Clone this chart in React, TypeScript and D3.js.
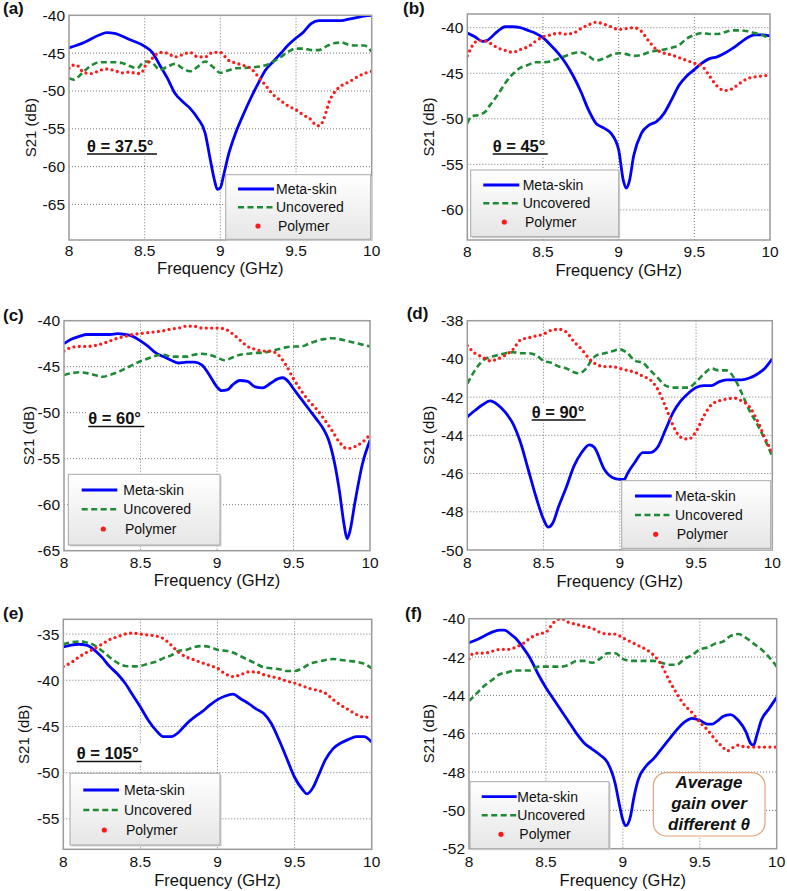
import React from 'react';
import * as d3 from 'd3';

type Pt = [number, number];

const xTicks = [8, 8.5, 9, 9.5, 10];
const seriesNames = ['Meta-skin', 'Uncovered', 'Polymer'];
const xAxisTitle = 'Frequency (GHz)';
const yAxisTitle = 'S21 (dB)';

// ---------- (a) θ = 37.5° ----------
const metaA: Pt[] = [[8.0,-44.3],[8.1,-43.6],[8.2,-42.6],[8.25,-42.3],[8.3,-42.4],[8.4,-43.2],[8.5,-44.1],[8.55,-44.9],[8.6,-46.6],[8.65,-48.3],[8.7,-50.3],[8.75,-51.4],[8.8,-52.3],[8.85,-53.6],[8.9,-55.6],[8.93,-58.7],[8.96,-61.7],[8.98,-63],[9.0,-62.8],[9.02,-61.3],[9.05,-58.7],[9.1,-55.6],[9.15,-53.2],[9.2,-51],[9.25,-49],[9.3,-47.2],[9.35,-46.1],[9.4,-45],[9.45,-43.9],[9.5,-43],[9.55,-42.2],[9.6,-41.1],[9.65,-40.7],[9.7,-40.7],[9.8,-40.7],[9.85,-40.5],[9.9,-40.3],[9.95,-40.1],[10.0,-40]];
const uncA: Pt[] = [[8.0,-48.3],[8.03,-48.5],[8.1,-47.4],[8.15,-46.6],[8.2,-46.2],[8.3,-46.2],[8.35,-46.3],[8.4,-46.7],[8.45,-47],[8.5,-46.1],[8.55,-46.3],[8.6,-47.2],[8.65,-46.8],[8.7,-46.4],[8.75,-47],[8.8,-47.4],[8.85,-46.8],[8.9,-46.1],[8.95,-46.8],[9.0,-47.6],[9.05,-47.3],[9.1,-47],[9.2,-46.9],[9.3,-46.6],[9.4,-45.5],[9.45,-44.8],[9.5,-44.4],[9.55,-44.4],[9.6,-44.6],[9.65,-44.6],[9.7,-44.1],[9.75,-43.7],[9.8,-43.6],[9.85,-43.9],[9.9,-44],[9.95,-44],[10.0,-44.8]];
const polA: Pt[] = [[8.0,-47],[8.02,-46.6],[8.05,-46.6],[8.1,-47.6],[8.15,-47.7],[8.2,-47.3],[8.25,-47.1],[8.3,-47.3],[8.35,-47.6],[8.4,-47.5],[8.45,-47.7],[8.48,-47.6],[8.5,-46.8],[8.55,-45.7],[8.6,-44.9],[8.65,-45],[8.7,-45.5],[8.75,-45.2],[8.8,-44.9],[8.85,-45.5],[8.9,-45.5],[8.95,-44.9],[9.0,-44.9],[9.05,-45.9],[9.1,-46.3],[9.15,-46.6],[9.2,-47],[9.25,-48.1],[9.3,-49.3],[9.35,-50.5],[9.4,-51.3],[9.45,-52],[9.5,-52.5],[9.55,-53.2],[9.6,-53.8],[9.63,-54.5],[9.65,-54.6],[9.67,-54.3],[9.7,-52.7],[9.72,-51.4],[9.75,-50.3],[9.8,-49.3],[9.85,-48.8],[9.9,-48.2],[9.95,-47.7],[10.0,-47.4]];

// ---------- (b) θ = 45° ----------
const metaB: Pt[] = [[8.0,-40.6],[8.05,-41],[8.1,-41.5],[8.13,-41.4],[8.2,-40.4],[8.25,-39.9],[8.3,-39.9],[8.35,-40],[8.4,-40.3],[8.45,-40.6],[8.5,-41.1],[8.55,-41.9],[8.6,-42.8],[8.65,-43.9],[8.7,-45.3],[8.75,-47],[8.8,-49],[8.85,-50.5],[8.9,-51],[8.95,-51.6],[9.0,-53.4],[9.03,-56.7],[9.05,-57.6],[9.07,-56.9],[9.1,-54],[9.15,-51.6],[9.2,-50.7],[9.25,-50.3],[9.3,-49.4],[9.35,-47.9],[9.4,-46.3],[9.45,-45.3],[9.5,-44.6],[9.55,-43.9],[9.6,-43.4],[9.65,-43.2],[9.7,-42.8],[9.75,-42.3],[9.8,-41.7],[9.85,-41.1],[9.9,-40.8],[9.95,-40.8],[10.0,-40.9]];
const uncB: Pt[] = [[8.0,-50.5],[8.03,-49.7],[8.07,-49.6],[8.12,-49.2],[8.15,-48.5],[8.2,-47.4],[8.25,-46.1],[8.3,-45.1],[8.35,-44.4],[8.4,-44.1],[8.45,-43.8],[8.5,-43.8],[8.55,-43.7],[8.6,-43.4],[8.65,-43.1],[8.7,-42.8],[8.75,-42.7],[8.8,-43.1],[8.85,-43.6],[8.9,-43.4],[8.95,-43],[9.0,-42.8],[9.05,-42.9],[9.1,-43.1],[9.15,-43],[9.2,-42.7],[9.3,-42.4],[9.35,-42.2],[9.4,-41.9],[9.45,-41.2],[9.5,-40.8],[9.55,-40.6],[9.6,-40.7],[9.65,-40.7],[9.7,-40.5],[9.75,-40.3],[9.8,-40.3],[9.85,-40.4],[9.9,-40.6],[9.95,-40.8],[10.0,-41.3]];
const polB: Pt[] = [[8.0,-43.1],[8.02,-42.4],[8.05,-41.6],[8.1,-41.4],[8.15,-41.7],[8.2,-42.2],[8.25,-42.5],[8.3,-42.7],[8.35,-42.4],[8.4,-42.1],[8.45,-41.5],[8.5,-41],[8.55,-40.8],[8.6,-40.6],[8.65,-40.7],[8.7,-40.6],[8.75,-40.1],[8.8,-39.7],[8.85,-39.4],[8.9,-39.6],[8.95,-39.9],[9.0,-40.2],[9.05,-40.1],[9.1,-40],[9.15,-40.4],[9.2,-41.5],[9.25,-42.4],[9.3,-42.8],[9.35,-43],[9.4,-43.3],[9.45,-43.6],[9.5,-43.9],[9.55,-44.2],[9.6,-45.3],[9.65,-46.4],[9.7,-46.9],[9.75,-46.7],[9.8,-46.1],[9.85,-45.6],[9.9,-45.4],[9.95,-45.3],[10.0,-45.2]];

// ---------- (c) θ = 60° ----------
const metaC: Pt[] = [[8.0,-42.5],[8.05,-42],[8.1,-41.7],[8.15,-41.5],[8.2,-41.5],[8.3,-41.5],[8.35,-41.4],[8.4,-41.5],[8.45,-41.7],[8.5,-42.2],[8.55,-42.8],[8.6,-43.5],[8.65,-43.9],[8.7,-44.3],[8.75,-44.6],[8.8,-44.5],[8.85,-44.5],[8.9,-44.8],[8.95,-45.9],[9.0,-47.2],[9.03,-47.6],[9.07,-47.5],[9.1,-47],[9.15,-46.5],[9.2,-46.6],[9.25,-47.2],[9.3,-47.3],[9.35,-46.8],[9.4,-46.3],[9.43,-46.2],[9.47,-46.7],[9.5,-47.4],[9.55,-48.5],[9.6,-49.6],[9.65,-50.7],[9.7,-51.9],[9.73,-53],[9.77,-55.6],[9.8,-58.5],[9.83,-62.1],[9.85,-63.7],[9.87,-62.8],[9.9,-59.9],[9.95,-55.6],[10.0,-53]];
const uncC: Pt[] = [[8.0,-45.9],[8.05,-45.7],[8.1,-45.6],[8.15,-45.7],[8.2,-45.9],[8.25,-46.1],[8.3,-45.9],[8.35,-45.6],[8.4,-45.2],[8.45,-44.8],[8.5,-44.4],[8.55,-44.1],[8.6,-43.8],[8.65,-43.7],[8.7,-43.9],[8.75,-43.9],[8.8,-43.9],[8.85,-43.7],[8.9,-43.6],[8.95,-43.7],[9.0,-44],[9.05,-44.3],[9.1,-44],[9.15,-43.7],[9.2,-43.6],[9.25,-43.5],[9.3,-43.5],[9.35,-43.3],[9.4,-43.1],[9.45,-42.9],[9.5,-42.8],[9.55,-42.8],[9.6,-42.5],[9.65,-42.2],[9.7,-42],[9.75,-41.9],[9.8,-42],[9.85,-42.2],[9.9,-42.4],[9.95,-42.6],[10.0,-42.8]];
const polC: Pt[] = [[8.0,-43.3],[8.05,-42.9],[8.1,-42.8],[8.15,-42.8],[8.2,-42.7],[8.25,-42.5],[8.3,-42.2],[8.35,-41.9],[8.4,-41.7],[8.45,-41.5],[8.5,-41.4],[8.55,-41.3],[8.6,-41.2],[8.65,-41.1],[8.7,-40.9],[8.75,-40.8],[8.8,-40.6],[8.85,-40.6],[8.9,-40.8],[8.95,-40.8],[9.0,-40.8],[9.05,-40.9],[9.1,-41.4],[9.15,-42.1],[9.2,-42.8],[9.25,-43.1],[9.3,-43.3],[9.35,-43.3],[9.4,-43.7],[9.45,-44.8],[9.5,-46.3],[9.55,-47.6],[9.6,-48.7],[9.65,-49.6],[9.7,-50.7],[9.75,-51.9],[9.8,-53.2],[9.85,-53.9],[9.9,-53.7],[9.95,-53.2],[10.0,-52.4]];

// ---------- (d) θ = 90° ----------
const metaD: Pt[] = [[8.0,-43.03],[8.05,-42.7],[8.1,-42.4],[8.15,-42.2],[8.2,-42.4],[8.25,-42.8],[8.3,-43.4],[8.35,-44.4],[8.4,-45.8],[8.45,-47.2],[8.5,-48.4],[8.53,-48.8],[8.56,-48.6],[8.6,-47.7],[8.65,-46.7],[8.7,-45.6],[8.75,-44.9],[8.8,-44.5],[8.83,-44.6],[8.9,-45.8],[8.95,-46.2],[9.0,-46.3],[9.03,-46.3],[9.05,-46],[9.1,-45.4],[9.15,-44.9],[9.2,-44.9],[9.25,-44.6],[9.3,-43.7],[9.35,-42.8],[9.4,-42.2],[9.45,-41.8],[9.5,-41.5],[9.55,-41.4],[9.6,-41.4],[9.65,-41.2],[9.7,-41.1],[9.75,-41.1],[9.8,-41.1],[9.85,-41],[9.9,-40.8],[9.95,-40.5],[10.0,-40]];
const uncD: Pt[] = [[8.0,-41.3],[8.05,-40.6],[8.1,-40.1],[8.15,-39.9],[8.2,-39.8],[8.25,-39.7],[8.3,-39.65],[8.35,-39.7],[8.4,-39.7],[8.45,-39.8],[8.5,-40.1],[8.55,-40.2],[8.6,-40.4],[8.65,-40.5],[8.7,-40.7],[8.73,-40.75],[8.78,-40.5],[8.82,-40],[8.85,-39.8],[8.9,-39.7],[8.95,-39.6],[9.0,-39.5],[9.05,-39.7],[9.1,-40.1],[9.15,-40.2],[9.2,-40.6],[9.25,-41],[9.3,-41.4],[9.35,-41.5],[9.4,-41.5],[9.45,-41.5],[9.5,-41.2],[9.55,-40.8],[9.6,-40.5],[9.65,-40.6],[9.7,-40.6],[9.75,-41],[9.8,-41.8],[9.85,-42.7],[9.9,-43.4],[9.95,-44.2],[10.0,-45.1]];
const polD: Pt[] = [[8.0,-39.3],[8.05,-39.7],[8.1,-39.9],[8.15,-40.1],[8.2,-40],[8.25,-39.8],[8.3,-39.5],[8.35,-39],[8.4,-38.9],[8.45,-38.8],[8.5,-38.7],[8.55,-38.5],[8.6,-38.45],[8.65,-38.6],[8.7,-39.1],[8.75,-39.5],[8.8,-40],[8.85,-40.3],[8.9,-40.4],[8.95,-40.4],[9.0,-40.5],[9.05,-40.6],[9.1,-40.7],[9.15,-40.9],[9.2,-41.1],[9.25,-41.6],[9.3,-42.5],[9.35,-43.5],[9.4,-44.1],[9.45,-44.2],[9.5,-43.8],[9.55,-43],[9.6,-42.4],[9.65,-42.2],[9.7,-42.1],[9.75,-42.05],[9.8,-42.2],[9.85,-42.5],[9.9,-43.2],[9.95,-44.1],[10.0,-44.9]];

// ---------- (e) θ = 105° ----------
const metaE: Pt[] = [[8.0,-36.4],[8.05,-36.2],[8.1,-36.1],[8.15,-36.2],[8.2,-36.7],[8.25,-37.5],[8.3,-38.5],[8.35,-39.3],[8.4,-40.3],[8.45,-41.6],[8.5,-42.9],[8.55,-44.3],[8.6,-45.4],[8.65,-46.1],[8.7,-46.1],[8.75,-45.6],[8.8,-44.7],[8.85,-44],[8.9,-43.4],[8.95,-42.7],[9.0,-42.1],[9.05,-41.7],[9.1,-41.5],[9.15,-42],[9.2,-42.5],[9.25,-43.1],[9.3,-43.6],[9.35,-44.7],[9.4,-46.5],[9.45,-48.5],[9.5,-50.5],[9.55,-51.8],[9.58,-52.3],[9.62,-51.6],[9.65,-50.5],[9.7,-48.6],[9.75,-47.4],[9.8,-46.8],[9.85,-46.4],[9.9,-46.1],[9.95,-46.1],[10.0,-46.7]];
const uncE: Pt[] = [[8.0,-36.1],[8.05,-35.9],[8.1,-35.8],[8.15,-35.9],[8.2,-36.2],[8.25,-36.8],[8.3,-37.5],[8.35,-38.1],[8.4,-38.45],[8.45,-38.5],[8.5,-38.45],[8.55,-38.2],[8.6,-38],[8.65,-37.6],[8.7,-37.3],[8.75,-36.8],[8.8,-36.7],[8.85,-36.4],[8.9,-36.3],[8.95,-36.4],[9.0,-36.7],[9.05,-36.8],[9.1,-37],[9.15,-37.4],[9.2,-37.8],[9.25,-38.2],[9.3,-38.6],[9.35,-38.7],[9.4,-38.8],[9.45,-39],[9.5,-39],[9.55,-38.7],[9.6,-38.2],[9.65,-38],[9.7,-37.8],[9.75,-37.7],[9.8,-37.8],[9.85,-37.9],[9.9,-38],[9.95,-38.2],[10.0,-38.7]];
const polE: Pt[] = [[8.0,-38.5],[8.05,-38.1],[8.1,-37.5],[8.15,-37],[8.2,-36.6],[8.25,-36.1],[8.3,-35.6],[8.35,-35.3],[8.4,-35],[8.45,-34.9],[8.5,-35],[8.55,-35.1],[8.6,-35.2],[8.65,-35.5],[8.7,-36.2],[8.75,-37],[8.8,-37.5],[8.85,-37.8],[8.9,-38.1],[8.95,-38.4],[9.0,-38.7],[9.05,-39.3],[9.1,-39.6],[9.15,-39.4],[9.2,-39.1],[9.25,-39.1],[9.3,-39.4],[9.35,-39.6],[9.4,-39.8],[9.45,-40.1],[9.5,-40.3],[9.55,-40.6],[9.6,-40.9],[9.65,-41.1],[9.7,-41.4],[9.75,-42.1],[9.8,-42.7],[9.85,-43.2],[9.9,-43.7],[9.95,-44],[10.0,-44]];

// ---------- (f) average ----------
const metaF: Pt[] = [[8.0,-41.25],[8.05,-41.1],[8.1,-40.9],[8.15,-40.7],[8.2,-40.6],[8.23,-40.6],[8.27,-40.8],[8.3,-41],[8.35,-41.5],[8.4,-42.1],[8.45,-42.9],[8.5,-43.6],[8.55,-44.2],[8.6,-44.8],[8.65,-45.4],[8.7,-46],[8.75,-46.5],[8.8,-46.8],[8.85,-47.1],[8.9,-47.5],[8.95,-48.6],[8.98,-49.8],[9.0,-50.5],[9.02,-50.8],[9.05,-50.3],[9.07,-49.4],[9.1,-48.4],[9.15,-47.7],[9.2,-47.3],[9.25,-46.8],[9.3,-46.3],[9.35,-45.8],[9.4,-45.4],[9.45,-45.2],[9.5,-45.3],[9.55,-45.5],[9.58,-45.5],[9.62,-45.3],[9.65,-45.1],[9.7,-45],[9.75,-45.3],[9.8,-45.9],[9.83,-46.5],[9.85,-46.6],[9.87,-46.1],[9.9,-45.3],[9.95,-44.7],[10.0,-44.1]];
const uncF: Pt[] = [[8.0,-44.3],[8.05,-43.9],[8.1,-43.5],[8.15,-43.2],[8.2,-42.9],[8.25,-42.8],[8.3,-42.7],[8.35,-42.7],[8.4,-42.7],[8.45,-42.5],[8.5,-42.5],[8.55,-42.5],[8.6,-42.5],[8.65,-42.4],[8.7,-42.2],[8.75,-42.2],[8.8,-42.3],[8.85,-42.1],[8.9,-41.8],[8.95,-41.8],[9.0,-42.1],[9.05,-42.2],[9.1,-42.2],[9.15,-42.2],[9.2,-42.2],[9.25,-42.3],[9.3,-42.4],[9.35,-42.4],[9.4,-42.1],[9.45,-41.9],[9.5,-41.6],[9.55,-41.5],[9.6,-41.3],[9.65,-41.2],[9.7,-40.9],[9.75,-40.8],[9.8,-41],[9.85,-41.3],[9.9,-41.6],[9.95,-42],[10.0,-42.5]];
const polF: Pt[] = [[8.0,-42.1],[8.03,-41.8],[8.1,-41.8],[8.15,-41.7],[8.2,-41.6],[8.25,-41.6],[8.3,-41.5],[8.35,-41.3],[8.4,-41],[8.45,-40.8],[8.5,-40.7],[8.55,-40.2],[8.6,-40],[8.65,-40.2],[8.7,-40.3],[8.75,-40.4],[8.8,-40.5],[8.85,-40.7],[8.9,-40.8],[8.95,-40.8],[9.0,-41],[9.05,-41.2],[9.1,-41.4],[9.15,-41.6],[9.2,-41.9],[9.25,-42.4],[9.3,-43.2],[9.35,-43.9],[9.4,-44.5],[9.45,-44.9],[9.5,-45.4],[9.55,-45.8],[9.6,-46.3],[9.65,-46.7],[9.68,-46.9],[9.7,-46.8],[9.75,-46.6],[9.8,-46.7],[9.85,-46.7],[9.9,-46.7],[9.95,-46.7],[10.0,-46.7]];

const yTicksA = [-65, -60, -55, -50, -45, -40];
const yTicksB = [-60, -55, -50, -45, -40];
const yTicksC = [-65, -60, -55, -50, -45, -40];
const yTicksD = [-50, -48, -46, -44, -42, -40, -38];
const yTicksE = [-55, -50, -45, -40, -35];
const yTicksF = [-52, -50, -48, -46, -44, -42, -40];

const panelLabels = ['(a)', '(b)', '(c)', '(d)', '(e)', '(f)'];
const thetaLabels = ['θ = 37.5°', 'θ = 45°', 'θ = 60°', 'θ = 90°', 'θ = 105°', ''];
const noteLines = ['Average', 'gain over', 'different θ'];

const FONT = '"Liberation Sans", Arial, Helvetica, sans-serif';
const BLUE = '#0000ff';
const GREEN = '#1f8a35';
const RED = '#ff1a1a';

interface Leg { x: number; y: number; w: number; h: number; rows: number[]; l1: number; l2: number; tx: number; mx: number; ptx: number; }
interface Cfg {
  label: string; lx: number; ly: number;
  left: number; right: number; top: number; bottom: number;
  yDomain: [number, number]; yTicks: number[];
  tickY: number; xLabelY: number; yLabelX: number;
  theta: string; thX: number; thY: number; thW: number;
  legend: Leg;
  meta: Pt[]; unc: Pt[]; pol: Pt[];
  note?: boolean;
}

const panels: Cfg[] = [
  { label: panelLabels[0], lx: 3, ly: 8.5, left: 69, right: 371.7, top: 15.3, bottom: 240, yDomain: [-69.7, -40], yTicks: yTicksA,
    tickY: 250, xLabelY: 268, yLabelX: 30, theta: thetaLabels[0], thX: 87, thY: 151.5, thW: 70,
    legend: { x: 225.7, y: 174.7, w: 145, h: 64.6, rows: [189, 207.3, 226], l1: 238, l2: 274, tx: 276, mx: 258, ptx: 278 },
    meta: metaA, unc: uncA, pol: polA },
  { label: panelLabels[1], lx: 403, ly: 8.5, left: 467.3, right: 770, top: 14, bottom: 240, yDomain: [-63.3, -38.5], yTicks: yTicksB,
    tickY: 251.5, xLabelY: 270, yLabelX: 428, theta: thetaLabels[1], thX: 492.7, thY: 151.5, thW: 55,
    legend: { x: 470.7, y: 170, w: 148, h: 66.7, rows: [185, 203.3, 222], l1: 483.3, l2: 519.3, tx: 522.7, mx: 504.3, ptx: 525 },
    meta: metaB, unc: uncB, pol: polB },
  { label: panelLabels[2], lx: 3, ly: 315, left: 64, right: 370, top: 320.7, bottom: 550.7, yDomain: [-65, -40], yTicks: yTicksC,
    tickY: 562.5, xLabelY: 580, yLabelX: 28, theta: thetaLabels[2], thX: 88.3, thY: 424, thW: 56,
    legend: { x: 68.3, y: 474.3, w: 151.7, h: 70.7, rows: [490, 509.3, 529], l1: 81.7, l2: 117.3, tx: 123.3, mx: 103.3, ptx: 125 },
    meta: metaC, unc: uncC, pol: polC },
  { label: panelLabels[3], lx: 406.7, ly: 313, left: 467.3, right: 772.3, top: 320.7, bottom: 550, yDomain: [-50, -38], yTicks: yTicksD,
    tickY: 562.5, xLabelY: 580.5, yLabelX: 428, theta: thetaLabels[3], thX: 531.7, thY: 417.5, thW: 54,
    legend: { x: 621.7, y: 480.7, w: 149, h: 67.6, rows: [496, 515, 534.3], l1: 635, l2: 671.7, tx: 675, mx: 655.7, ptx: 676.7 },
    meta: metaD, unc: uncD, pol: polD },
  { label: panelLabels[4], lx: 3, ly: 613, left: 63.3, right: 371.7, top: 619.3, bottom: 849.3, yDomain: [-58.3, -33.4], yTicks: yTicksE,
    tickY: 861, xLabelY: 880, yLabelX: 23, theta: thetaLabels[4], thX: 76.7, thY: 759, thW: 65,
    legend: { x: 70, y: 773.3, w: 150, h: 71.7, rows: [790, 810, 830], l1: 83.3, l2: 119, tx: 124, mx: 104.3, ptx: 126 },
    meta: metaE, unc: uncE, pol: polE },
  { label: panelLabels[5], lx: 405, ly: 613, left: 469, right: 776.7, top: 618.7, bottom: 848.7, yDomain: [-52, -40], yTicks: yTicksF,
    tickY: 861, xLabelY: 880, yLabelX: 428, theta: thetaLabels[5], thX: 0, thY: 0, thW: 0,
    legend: { x: 470, y: 781.7, w: 139, h: 67, rows: [796.7, 815.3, 834.3], l1: 481.7, l2: 516.7, tx: 517.3, mx: 501, ptx: 519.3 },
    meta: metaF, unc: uncF, pol: polF, note: true },
];

function Panel({ cfg, idx }: { cfg: Cfg; idx: number }) {
  const x = d3.scaleLinear().domain([8, 10]).range([cfg.left, cfg.right]);
  const y = d3.scaleLinear().domain(cfg.yDomain).range([cfg.bottom, cfg.top]);
  const line = d3.line<Pt>().x(d => x(d[0])).y(d => y(d[1])).curve(d3.curveMonotoneX);
  const clipId = `clip-${idx}`;
  const gradId = `lg-${idx}`;
  const L = cfg.legend;
  const w = cfg.right - cfg.left;
  const h = cfg.bottom - cfg.top;
  return (
    <g fontFamily={FONT}>
      <defs>
        <clipPath id={clipId}><rect x={cfg.left} y={cfg.top} width={w} height={h} /></clipPath>
        <linearGradient id={gradId} x1="0" y1="0" x2="0" y2="1">
          <stop offset="0" stopColor="#ffffff" />
          <stop offset="1" stopColor="#e6e6e6" />
        </linearGradient>
      </defs>
      <rect x={cfg.left} y={cfg.top} width={w} height={h} fill="#fff" />
      {xTicks.filter(t => t > 8 && t < 10).map(t => (
        <line key={'gx' + t} x1={x(t)} x2={x(t)} y1={cfg.top} y2={cfg.bottom} stroke="#555" strokeWidth={0.8} strokeDasharray="1 2" />
      ))}
      {cfg.yTicks.filter(t => y(t) > cfg.top + 1 && y(t) < cfg.bottom - 1).map(t => (
        <line key={'gy' + t} x1={cfg.left} x2={cfg.right} y1={y(t)} y2={y(t)} stroke="#555" strokeWidth={0.8} strokeDasharray="1 2" />
      ))}
      <g clipPath={`url(#${clipId})`}>
        <path d={line(cfg.meta) || ''} fill="none" stroke={BLUE} strokeWidth={2.8} strokeLinejoin="round" />
        <path d={line(cfg.unc) || ''} fill="none" stroke={GREEN} strokeWidth={2.6} strokeDasharray="6 3.5" />
        <path d={line(cfg.pol) || ''} fill="none" stroke={RED} strokeWidth={3.3} strokeLinecap="round" strokeDasharray="0 5.4" />
      </g>
      <rect x={cfg.left} y={cfg.top} width={w} height={h} fill="none" stroke="#9a9a9a" strokeWidth={1.5} />
      {xTicks.map(t => (
        <text key={'tx' + t} x={x(t)} y={cfg.tickY} textAnchor="middle" dominantBaseline="central" fontSize={15.5} fill="#111">{String(t)}</text>
      ))}
      {cfg.yTicks.map(t => (
        <text key={'ty' + t} x={cfg.left - 4} y={y(t)} textAnchor="end" dominantBaseline="central" fontSize={15.5} fill="#111">{String(t)}</text>
      ))}
      <text x={(cfg.left + cfg.right) / 2} y={cfg.xLabelY} textAnchor="middle" dominantBaseline="central" fontSize={16.5} fill="#111">{xAxisTitle}</text>
      <text transform={`translate(${cfg.yLabelX},${(cfg.top + cfg.bottom) / 2}) rotate(-90)`} textAnchor="middle" dominantBaseline="central" fontSize={15} fill="#111">{yAxisTitle}</text>
      <text x={cfg.lx} y={cfg.ly} dominantBaseline="central" fontSize={17} fontWeight="bold" fill="#111">{cfg.label}</text>
      {cfg.theta && (
        <g>
          <rect x={cfg.thX - 2} y={cfg.thY - 14} width={cfg.thW + 4} height={19} fill="#fff" />
          <text x={cfg.thX} y={cfg.thY} fontSize={16.5} fontWeight="bold" fill="#111">{cfg.theta}</text>
          <line x1={cfg.thX} x2={cfg.thX + cfg.thW} y1={cfg.thY + 2.5} y2={cfg.thY + 2.5} stroke="#111" strokeWidth={1.6} />
        </g>
      )}
      <rect x={L.x + 1.5} y={L.y + 1.5} width={L.w} height={L.h} fill="#d0d0d0" />
      <rect x={L.x} y={L.y} width={L.w} height={L.h} fill={`url(#${gradId})`} stroke="#a8a8a8" strokeWidth={1} />
      <line x1={L.l1} x2={L.l2} y1={L.rows[0]} y2={L.rows[0]} stroke={BLUE} strokeWidth={2.8} />
      <line x1={L.l1} x2={L.l2} y1={L.rows[1]} y2={L.rows[1]} stroke={GREEN} strokeWidth={2.6} strokeDasharray="6 3.5" />
      <circle cx={L.mx} cy={L.rows[2]} r={2.6} fill={RED} />
      <text x={L.tx} y={L.rows[0]} dominantBaseline="central" fontSize={14} fill="#111">{seriesNames[0]}</text>
      <text x={L.tx} y={L.rows[1]} dominantBaseline="central" fontSize={14} fill="#111">{seriesNames[1]}</text>
      <text x={L.ptx} y={L.rows[2]} dominantBaseline="central" fontSize={14} fill="#111">{seriesNames[2]}</text>
      {cfg.note && (
        <g>
          <rect x={653.3} y={772.7} width={111.7} height={63.3} rx={13} fill="#fff" stroke="#e0a47a" strokeWidth={1.2} />
          {noteLines.map((s, i) => (
            <text key={s} x={709} y={782.5 + i * 20.8} textAnchor="middle" dominantBaseline="central" fontSize={17} fontWeight="bold" fontStyle="italic" fill="#111">{s}</text>
          ))}
        </g>
      )}
    </g>
  );
}

export default function App() {
  React.useEffect(() => { document.body.style.margin = '0'; }, []);
  return (
    <svg width={787} height={891} viewBox="0 0 787 891" style={{ display: 'block', position: 'absolute', left: 0, top: 0, background: '#fff' }}>
      <rect x={0} y={0} width={787} height={891} fill="#fff" />
      {panels.map((p, i) => <Panel key={i} cfg={p} idx={i} />)}
    </svg>
  );
}
